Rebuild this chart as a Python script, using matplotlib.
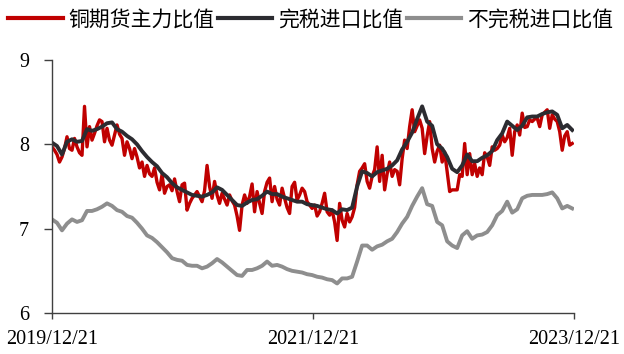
import matplotlib
matplotlib.use("Agg")
import matplotlib.pyplot as plt
import matplotlib.dates as mdates
import pandas as pd

# Copper futures main-contract ratio (weekly)
futures_ratio = [
    7.97, 7.93, 7.88, 7.79, 7.85, 7.95, 8.09, 7.95, 7.93, 8.07,
    7.97, 7.90, 7.87, 8.45, 7.97, 8.21, 8.05, 8.13, 8.22, 8.29,
    8.27, 8.03, 8.19, 8.05, 7.99, 8.11, 8.23, 8.12, 8.07, 7.87,
    8.03, 7.95, 7.83, 7.95, 7.85, 7.72, 7.79, 7.62, 7.75, 7.65,
    7.62, 7.72, 7.55, 7.46, 7.64, 7.42, 7.50, 7.52, 7.45, 7.59,
    7.44, 7.32, 7.52, 7.54, 7.22, 7.30, 7.36, 7.40, 7.44, 7.38,
    7.32, 7.45, 7.75, 7.50, 7.36, 7.56, 7.40, 7.30, 7.42, 7.35,
    7.28, 7.40, 7.33, 7.28, 7.15, 6.98, 7.28, 7.40, 7.30, 7.38,
    7.53, 7.20, 7.44, 7.30, 7.18, 7.44, 7.55, 7.60, 7.32, 7.50,
    7.35, 7.28, 7.48, 7.36, 7.25, 7.18, 7.50, 7.55, 7.34, 7.40,
    7.48, 7.44, 7.32, 7.28, 7.24, 7.28, 7.15, 7.20, 7.30, 7.42,
    7.20, 7.16, 7.22, 7.08, 6.86, 7.30, 7.10, 7.02, 7.18, 7.08,
    7.14, 7.25, 7.52, 7.68, 7.72, 7.77, 7.56, 7.48, 7.62, 7.70,
    7.97, 7.56, 7.87, 7.46, 7.65, 7.79, 7.62, 7.70, 7.68, 7.52,
    7.83, 8.05, 7.95, 8.21, 8.41, 8.15, 8.22, 8.29, 8.19, 7.89,
    8.10, 8.27, 7.95, 7.79, 7.92, 7.99, 7.79, 7.91, 7.68, 7.44,
    7.46, 7.46, 7.46, 7.64, 7.62, 8.01, 7.64, 7.89, 7.64, 7.77,
    7.62, 7.72, 7.64, 7.90, 7.85, 7.75, 7.97, 7.93, 7.95, 7.99,
    8.11, 8.03, 8.08, 8.19, 7.87, 8.15, 8.23, 8.11, 8.37, 8.20,
    8.21, 8.29, 8.27, 8.30, 8.31, 8.21, 8.35, 8.38, 8.41, 8.19,
    8.35, 8.30, 8.27, 8.15, 7.93, 8.10, 8.15, 7.99, 8.01,
]

# Tax-inclusive import ratio (bi-weekly)
taxed_import_ratio = [
    8.02, 7.98, 7.88, 8.03, 8.06, 8.03, 8.04, 8.18, 8.16, 8.18,
    8.21, 8.25, 8.26, 8.18, 8.15, 8.10, 8.06, 8.00, 7.92, 7.85,
    7.79, 7.74, 7.66, 7.61, 7.54, 7.49, 7.46, 7.43, 7.40, 7.39,
    7.38, 7.40, 7.43, 7.49, 7.46, 7.40, 7.34, 7.28, 7.27, 7.31,
    7.34, 7.35, 7.39, 7.44, 7.41, 7.41, 7.38, 7.36, 7.34, 7.32,
    7.32, 7.29, 7.28, 7.27, 7.25, 7.23, 7.22, 7.18, 7.23, 7.22,
    7.25, 7.50, 7.68, 7.66, 7.62, 7.67, 7.69, 7.71, 7.75, 7.81,
    7.94, 8.03, 8.14, 8.30, 8.45, 8.27, 8.22, 8.00, 7.95, 7.85,
    7.71, 7.67, 7.75, 7.88, 7.80, 7.80, 7.84, 7.87, 7.92, 8.05,
    8.13, 8.27, 8.22, 8.17, 8.22, 8.32, 8.33, 8.33, 8.36, 8.38,
    8.39, 8.35, 8.19, 8.23, 8.17,
]

# Tax-exclusive import ratio (bi-weekly)
untaxed_import_ratio = [
    7.11, 7.07, 6.98, 7.06, 7.11, 7.08, 7.10, 7.21, 7.21, 7.23,
    7.26, 7.30, 7.27, 7.22, 7.20, 7.15, 7.13, 7.07, 7.00, 6.92,
    6.89, 6.84, 6.78, 6.72, 6.65, 6.63, 6.62, 6.57, 6.56, 6.56,
    6.53, 6.55, 6.59, 6.64, 6.60, 6.55, 6.50, 6.45, 6.44, 6.51,
    6.51, 6.53, 6.56, 6.61, 6.56, 6.57, 6.55, 6.52, 6.50, 6.49,
    6.48, 6.46, 6.45, 6.43, 6.42, 6.40, 6.39, 6.35, 6.41, 6.41,
    6.43, 6.61, 6.80, 6.80, 6.75, 6.79, 6.81, 6.85, 6.88, 6.96,
    7.06, 7.14, 7.27, 7.38, 7.48, 7.29, 7.27, 7.08, 7.04, 6.85,
    6.80, 6.77, 6.92, 6.97, 6.88, 6.92, 6.93, 6.96, 7.04, 7.16,
    7.21, 7.32, 7.19, 7.23, 7.36, 7.39, 7.40, 7.40, 7.40, 7.41,
    7.43, 7.36, 7.24, 7.27, 7.24,
]

series_labels = ["铜期货主力比值", "完税进口比值", "不完税进口比值"]
tick_dates = ["2019-12-21", "2021-12-21", "2023-12-21"]
y_ticks = [6, 7, 8, 9]

start = pd.Timestamp("2019-12-21")
weekly_dates = pd.date_range(start, periods=len(futures_ratio), freq="7D")
biweekly_dates = pd.date_range(start, periods=len(taxed_import_ratio), freq="14D")

plt.rcParams["font.family"] = ["Liberation Serif", "DejaVu Serif"]

fig = plt.figure(figsize=(6.24, 3.54), dpi=100)
ax = fig.add_axes([52 / 624, 1 - 313 / 354, (574 - 52) / 624, (313 - 60) / 354])

red, dark, grey = "#C00000", "#2C2C31", "#8E8E8E"
l1, = ax.plot(weekly_dates, futures_ratio, color=red, lw=2.4, solid_joinstyle="round")
l2, = ax.plot(biweekly_dates, taxed_import_ratio, color=dark, lw=2.8, solid_joinstyle="round")
l3, = ax.plot(biweekly_dates, untaxed_import_ratio, color=grey, lw=2.8, solid_joinstyle="round")

ax.set_xlim(pd.Timestamp(tick_dates[0]), pd.Timestamp(tick_dates[-1]))
ax.set_ylim(6, 9)
ax.set_yticks(y_ticks)
ax.set_xticks([pd.Timestamp(d) for d in tick_dates])
ax.xaxis.set_major_formatter(mdates.DateFormatter("%Y/%m/%d"))

for side in ("top", "right"):
    ax.spines[side].set_visible(False)
for side in ("left", "bottom"):
    ax.spines[side].set_color("#404040")
    ax.spines[side].set_linewidth(1.0)
ax.tick_params(axis="both", direction="out", width=1.0, color="#404040",
               labelsize=14.5, labelcolor="black")
ax.tick_params(axis="y", length=5.5, pad=11)
ax.tick_params(axis="x", length=4, pad=8)

leg = fig.legend([l1, l2, l3], series_labels, loc="upper left",
                 bbox_to_anchor=(0.0, 1.0), ncol=3, frameon=False,
                 prop={"family": ["Noto Sans CJK SC", "DejaVu Sans"], "size": 15},
                 handlelength=2.6, handletextpad=0.3, columnspacing=0.15,
                 borderaxespad=0.2, borderpad=0.2)
for h in leg.get_lines():
    h.set_linewidth(3)

fig.savefig("out.png", dpi=100)
